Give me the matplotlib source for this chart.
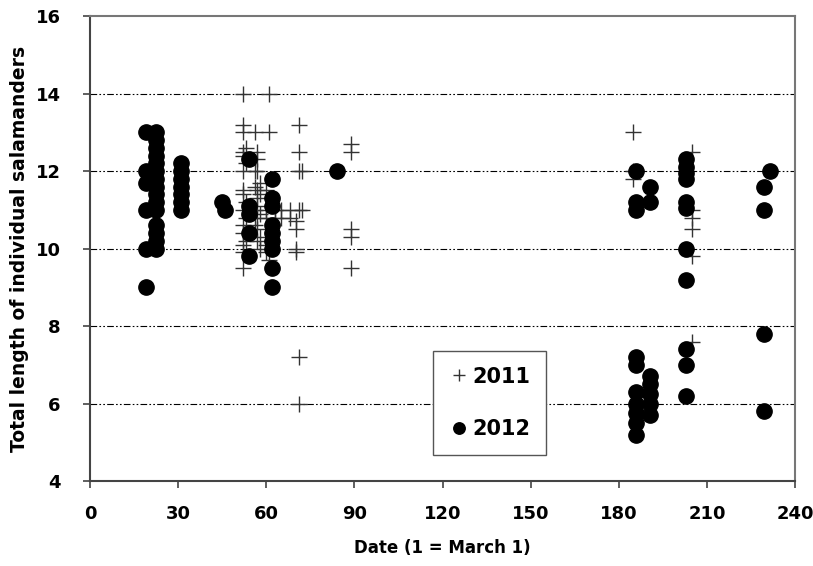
import numpy as np
import matplotlib.pyplot as plt

# 2011 measurements (crosses): day, total length
days_2011 = [52, 52, 52, 52, 52, 52, 52, 52, 52, 52, 52, 52, 52, 52,
             53, 53, 53, 53, 53,
             56, 56, 56, 56, 56,
             57, 57, 57, 57, 57, 57, 57, 57, 57,
             58, 58, 58, 58, 58,
             60, 60, 60, 60, 60,
             61, 61, 61,
             63, 63, 65, 65, 68, 68,
             70, 70, 70, 70,
             71, 71, 71, 71, 71, 71,
             72, 72,
             89, 89, 89, 89, 89,
             185, 185, 185,
             205, 205, 205, 205, 205, 205]
len_2011 = [14.0, 13.2, 13.0, 12.5, 12.4, 12.0, 11.5, 11.4, 11.0, 10.6, 10.4, 10.1, 9.9, 9.5,
            12.6, 12.2, 11.2, 10.8, 10.2,
            13.0, 12.0, 11.6, 11.0, 10.6,
            12.5, 12.3, 12.0, 11.5, 11.3, 11.1, 10.8, 10.5, 10.2,
            11.7, 11.4, 10.9, 10.3, 10.0,
            11.5, 11.0, 10.8, 10.1, 9.9,
            14.0, 13.0, 9.7,
            11.0, 10.8, 11.0, 10.8, 11.0, 10.8,
            10.7, 10.5, 10.0, 9.9,
            13.2, 12.5, 12.0, 11.0, 7.2, 6.0,
            11.0, 12.0,
            12.7, 12.5, 10.5, 10.3, 9.5,
            13.0, 12.0, 11.8,
            12.5, 11.0, 10.8, 10.5, 9.8, 7.6]

# 2012 measurements (filled circles)
days_2012 = [19, 19, 19, 19, 19, 19,
             22.5, 22.5, 22.5, 22.5, 22.5, 22.5, 22.5, 22.5, 22.5, 22.5, 22.5, 22.5, 22.5, 22.5, 22.5,
             31, 31, 31, 31, 31, 31, 31,
             45, 46,
             54, 54, 54, 54, 54,
             62, 62, 62, 62, 62, 62, 62, 62, 62,
             84,
             186, 186, 186, 186, 186, 186, 186, 186, 186, 186,
             190.5, 190.5, 190.5, 190.5, 190.5, 190.5, 190.5,
             203, 203, 203, 203, 203, 203, 203, 203, 203, 203, 203,
             229.5, 229.5, 229.5, 229.5,
             231.5]
len_2012 = [13.0, 12.0, 11.7, 11.0, 10.0, 9.0,
            13.0, 12.8, 12.6, 12.4, 12.2, 12.0, 11.8, 11.6, 11.4, 11.2, 11.0, 10.6, 10.4, 10.2, 10.0,
            12.2, 12.0, 11.8, 11.6, 11.4, 11.2, 11.0,
            11.2, 11.0,
            12.3, 11.1, 10.9, 10.4, 9.8,
            11.8, 11.3, 11.1, 10.6, 10.4, 10.2, 10.0, 9.5, 9.0,
            12.0,
            12.0, 11.2, 11.0, 7.2, 7.0, 6.3, 6.0, 5.75, 5.5, 5.2,
            11.6, 11.2, 6.7, 6.5, 6.25, 6.0, 5.7,
            12.3, 12.1, 11.95, 11.8, 11.2, 11.05, 10.0, 9.2, 7.4, 7.0, 6.2,
            11.6, 11.0, 7.8, 5.8,
            12.0]

fig = plt.figure(figsize=(8.13, 5.66), dpi=100)
ax = fig.add_axes([0.1107, 0.150, 0.8672, 0.8217])

for y in [6, 8, 10, 12, 14]:
    ax.axhline(y, color='black', lw=0.8, linestyle=(0, (6, 2, 1.5, 2, 1.5, 2)), zorder=1)

ax.plot(days_2011, len_2011, linestyle='none', marker='+', markersize=11,
        markeredgewidth=1.0, color='#333333', label='2011', zorder=2)
ax.plot(days_2012, len_2012, linestyle='none', marker='o', markersize=11,
        color='black', label='2012', zorder=3)

ax.set_xlim(0, 240)
ax.set_ylim(4, 16)
ax.set_xticks(range(0, 241, 30))
ax.set_yticks(range(4, 17, 2))

for side in ['left', 'bottom']:
    ax.spines[side].set_color('#444444')
    ax.spines[side].set_linewidth(1.5)
for side in ['top', 'right']:
    ax.spines[side].set_color('#777777')
    ax.spines[side].set_linewidth(1.5)

ax.tick_params(direction='out', length=5, width=1.2, color='#444444', labelsize=13)
ax.tick_params(axis='y', pad=16)
ax.tick_params(axis='x', pad=12)
for lab in ax.get_xticklabels() + ax.get_yticklabels():
    lab.set_fontweight('bold')

ax.set_xlabel('Date (1 = March 1)', fontsize=12, fontweight='bold', labelpad=12)
ax.set_ylabel('Total length of individual salamanders', fontsize=13.5, fontweight='bold', labelpad=5)

leg = ax.legend(loc='upper left', bbox_to_anchor=(0.4865, 0.2796), borderaxespad=0,
                fancybox=False, edgecolor='#555555', framealpha=1, borderpad=0.75,
                labelspacing=1.55, handlelength=1.0, handletextpad=0.15, markerscale=0.75,
                prop={'size': 15, 'weight': 'bold'})
leg.get_frame().set_linewidth(1.0)

fig.savefig('out.png', dpi=100)
